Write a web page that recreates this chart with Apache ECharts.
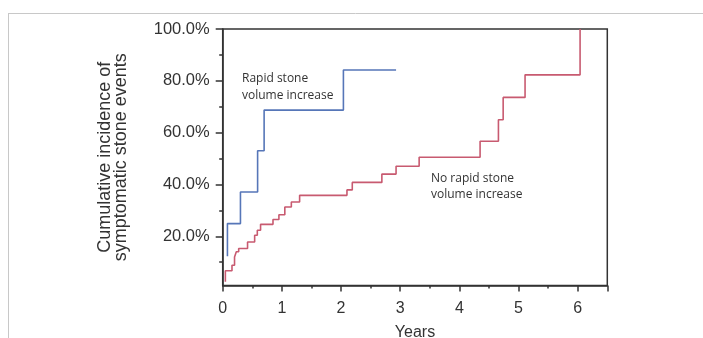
<!DOCTYPE html>
<html>
<head>
<meta charset="utf-8">
<script src="https://cdn.jsdelivr.net/npm/echarts@6/dist/echarts.min.js"></script>
<style>html,body{margin:0;padding:0;background:#fff}#c{width:703px;height:338px}</style>
</head>
<body>
<div id="c"></div>
<script>
// Rapid stone volume increase: [years, cumulative incidence %]
const rapidYears  = [0.08, 0.08, 0.30, 0.59, 0.70, 2.04, 2.93];
const rapidValues = [12.3, 24.9, 37.1, 53.0, 68.7, 84.2, 84.2];
// No rapid stone volume increase
const noRapidYears  = [0.045, 0.045, 0.157, 0.20, 0.23, 0.27, 0.42, 0.54, 0.585, 0.64, 0.85, 0.95, 1.05, 1.16, 1.30, 2.10, 2.19, 2.69, 2.93, 3.32, 4.35, 4.66, 4.74, 5.11, 6.04];
const noRapidValues = [2.4, 6.7, 8.8, 12.0, 14.0, 15.3, 17.8, 20.4, 22.3, 24.6, 26.5, 28.3, 31.3, 33.2, 35.8, 37.9, 40.8, 44.0, 47.0, 50.5, 56.7, 65.0, 73.6, 82.3, 100.0];
const yTickLabels = [20, 40, 60, 80, 100];
const yMinorTicks = [10, 30, 50, 70, 90];
const xTicks = [0, 1, 2, 3, 4, 5, 6];
const labelRapid = ['Rapid stone', 'volume increase'];
const labelNoRapid = ['No rapid stone', 'volume increase'];

const zip = (a, b) => a.map((v, i) => [v, b[i]]);
const axisColor = '#333';
const chart = echarts.init(document.getElementById('c'), null, {renderer: 'canvas'});
chart.setOption({
  animation: false,
  grid: {left: 222.7, right: 95.7, top: 29, bottom: 52.5, outerBoundsMode: 'none', containLabel: false,
    show: true, borderColor: axisColor, borderWidth: 1.5, backgroundColor: 'transparent'},
  xAxis: {
    type: 'value', min: 0, max: 6.5, interval: 1,
    name: 'Years', nameLocation: 'middle', nameGap: 39,
    nameTextStyle: {fontFamily: 'Liberation Sans', fontSize: 16, color: '#333'},
    axisLine: {lineStyle: {color: axisColor, width: 1.5}},
    axisTick: {show: true, length: 6, lineStyle: {color: axisColor, width: 1.5}},
    minorTick: {show: true, splitNumber: 2, length: 3, lineStyle: {color: axisColor, width: 1.5}},
    splitLine: {show: false},
    axisLabel: {margin: 15, fontFamily: 'Liberation Sans', fontSize: 16, color: '#333',
      customValues: xTicks, formatter: v => String(v)}
  },
  yAxis: [{
    type: 'value', min: 1, max: 100,
    name: 'Cumulative incidence of\nsymptomatic stone events', nameLocation: 'middle', nameGap: 93,
    nameTextStyle: {fontFamily: 'Liberation Sans', fontSize: 18, color: '#333', lineHeight: 16.5},
    axisLine: {show: true, lineStyle: {color: axisColor, width: 1.5}},
    axisTick: {show: true, length: 7, customValues: yTickLabels, lineStyle: {color: axisColor, width: 1.5}},
    splitLine: {show: false},
    axisLabel: {margin: 13, fontFamily: 'Liberation Sans', fontSize: 16.5, color: '#333',
      customValues: yTickLabels, formatter: v => v.toFixed(1) + '%'}
  }, {
    type: 'value', min: 1, max: 100, position: 'left',
    axisLine: {show: false},
    axisTick: {show: true, length: 3.5, customValues: yMinorTicks, lineStyle: {color: axisColor, width: 1.5}},
    axisLabel: {show: false}, splitLine: {show: false}
  }],
  series: [{
    type: 'line', step: 'end', data: zip(rapidYears, rapidValues), showSymbol: false,
    lineStyle: {color: '#5676b8', width: 1.6}, z: 3
  }, {
    type: 'line', step: 'end', data: zip(noRapidYears, noRapidValues), showSymbol: false,
    lineStyle: {color: '#c85a70', width: 1.6}, z: 3
  }],
  graphic: [
    {type: 'line', shape: {x1: 8, y1: 13.5, x2: 703, y2: 13.5}, style: {stroke: '#c8c8c8', lineWidth: 1}},
    {type: 'line', shape: {x1: 8.5, y1: 13, x2: 8.5, y2: 338}, style: {stroke: '#c8c8c8', lineWidth: 1}},
    {type: 'text', x: 242, y: 70.5, style: {text: labelRapid.join('\n'), fontFamily: 'Open Sans', fontSize: 12, lineHeight: 16.5, fill: '#333'}},
    {type: 'text', x: 431, y: 170, style: {text: labelNoRapid.join('\n'), fontFamily: 'Open Sans', fontSize: 12, lineHeight: 16.5, fill: '#333'}}
  ]
});
</script>
</body>
</html>
